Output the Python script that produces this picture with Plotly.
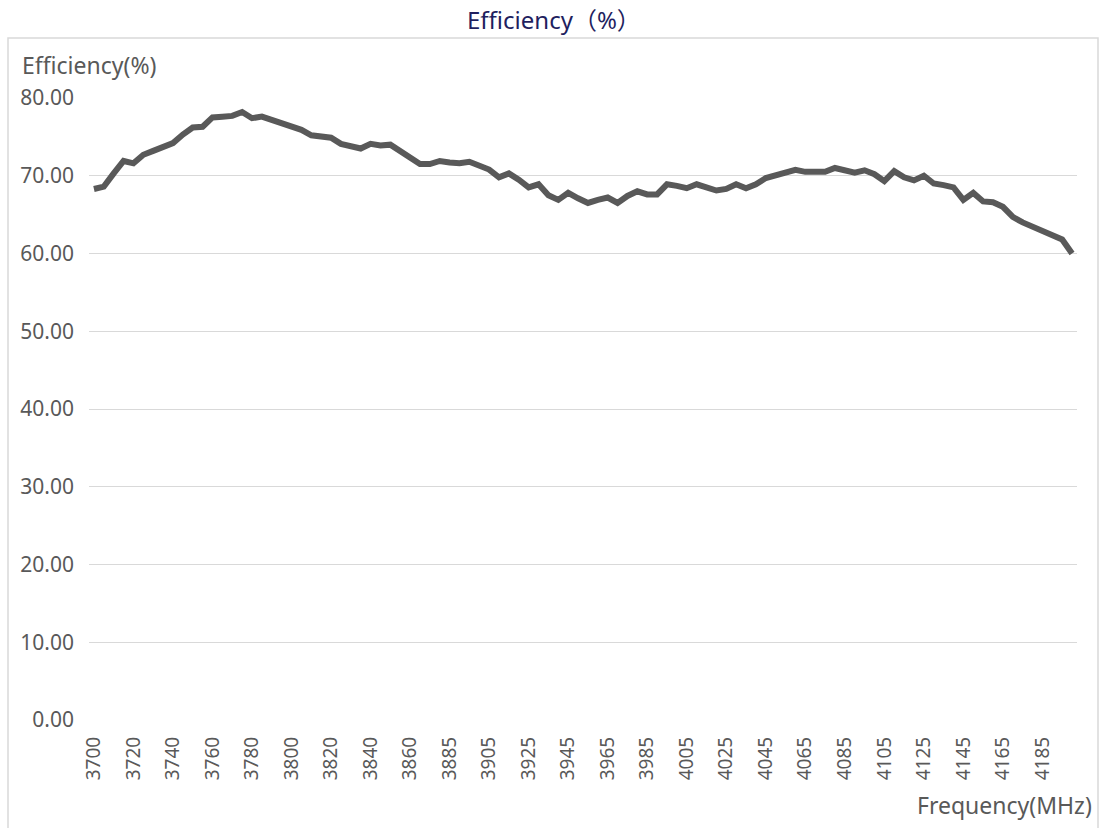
import plotly.graph_objects as go

# ---- data ----
freqs = list(range(3700, 3880, 5)) + list(range(3885, 4205, 5))
efficiency = [
    68.3, 68.6, 70.3, 71.9, 71.6, 72.7, 73.2, 73.8, 74.2, 75.3,
    76.2, 76.3, 77.5, 77.6, 77.7, 78.2, 77.4, 77.6, 77.2, 76.7,
    76.2, 75.9, 75.2, 75.0, 74.9, 74.1, 73.8, 73.5, 74.1, 73.9,
    74.0, 73.1, 72.2, 71.5, 71.5, 71.9, 71.7, 71.6, 71.8, 71.3,
    70.8, 69.8, 70.3, 69.5, 68.5, 68.9, 67.5, 66.9, 67.8, 67.1,
    66.5, 66.9, 67.2, 66.5, 67.4, 68.0, 67.6, 67.6, 68.9, 68.7,
    68.4, 68.9, 68.6, 68.1, 68.3, 68.9, 68.4, 68.9, 69.7, 70.0,
    70.3, 70.75, 70.5, 70.5, 70.5, 71.0, 70.75, 70.4, 70.7, 70.2,
    69.3, 70.6, 69.8, 69.4, 70.0, 69.0, 68.8, 68.5, 66.9, 67.8,
    66.7, 66.6, 66.0, 64.7, 64.0, 63.5, 62.9, 62.3, 61.8, 60.0,
]
categories = [str(f) for f in freqs]
tick_labels = categories[::4]
y_ticks = [0, 10, 20, 30, 40, 50, 60, 70, 80]
y_tick_text = [f"{v:.2f}" for v in y_ticks]

title_text = "Efficiency（%）"
y_title = "Efficiency(%)"
x_title = "Frequency(MHz)"

# ---- layout geometry (page pixels; body margin removed in the page) ----
W, H = 1105, 828
L, R, T, B = 89, 1077, 98, 720
pw, ph = R - L, B - T

def px(x):
    return (x - L) / pw

def py(y):
    return (B - y) / ph

FONT = "Noto Sans, Open Sans, sans-serif"
TITLE_FONT = "Noto Sans, Noto Sans CJK SC, sans-serif"
GRAY = "#595959"

fig = go.Figure()
fig.add_trace(go.Scatter(
    x=categories, y=efficiency, mode="lines",
    line=dict(color="#595959", width=6),
    hoverinfo="x+y", showlegend=False,
))

fig.update_layout(
    width=W, height=H,
    margin=dict(l=L, r=W - R, t=T, b=H - B),
    paper_bgcolor="white", plot_bgcolor="white",
    font=dict(family=FONT, color=GRAY, size=19),
    xaxis=dict(
        type="category", range=[-0.5, len(categories) - 0.5],
        tickmode="array", tickvals=tick_labels, ticktext=tick_labels,
        tickangle=-90, showgrid=False, showline=False, zeroline=False,
        ticks="", ticklen=0, ticklabelstandoff=12,
        tickfont=dict(size=19, color=GRAY, family=FONT),
    ),
    yaxis=dict(
        range=[0, 80], tickmode="array", tickvals=y_ticks, ticktext=y_tick_text,
        showgrid=True, gridcolor="#D9D9D9", gridwidth=1, zeroline=False,
        showline=False, ticks="", ticklabelstandoff=14,
        tickfont=dict(size=21, color=GRAY, family=FONT),
    ),
    shapes=[dict(
        type="rect", xref="paper", yref="paper",
        x0=px(8), x1=px(1098), y0=py(845), y1=py(38),
        line=dict(color="#D9D9D9", width=1.5), fillcolor="rgba(0,0,0,0)", layer="below",
    )],
    annotations=[
        dict(text=title_text, xref="paper", yref="paper", x=px(554), y=py(20),
             xanchor="center", yanchor="middle", showarrow=False,
             font=dict(family=TITLE_FONT, size=24, color="#1F1F5F")),
        dict(text=y_title, xref="paper", yref="paper", x=px(20), y=py(65),
             xanchor="left", yanchor="middle", showarrow=False,
             font=dict(family=FONT, size=23, color=GRAY)),
        dict(text=x_title, xref="paper", yref="paper", x=px(1094), y=py(805),
             xanchor="right", yanchor="middle", showarrow=False,
             font=dict(family=FONT, size=23, color=GRAY)),
    ],
)

fig.write_html("out.html", config={"displayModeBar": False},
               post_script="document.body.style.margin='0';")
